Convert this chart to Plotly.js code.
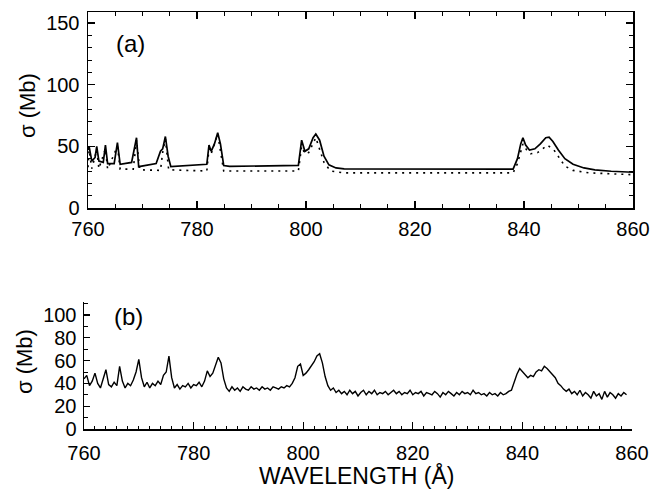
<!DOCTYPE html>
<html>
<head>
<meta charset="utf-8">
<script src="https://cdn.plot.ly/plotly-3.0.1.min.js"></script>
<style>html,body{margin:0;padding:0;background:#fff;}#chart{width:651px;height:490px;}</style>
</head>
<body>
<div id="chart"></div>
<script>
// Panel (a): calculated cross section, solid curve
const aSolidWl = [760.0,760.2,760.7,761.3,761.6,762.0,762.8,763.2,763.6,764.8,765.4,765.9,768.0,768.5,768.9,769.3,772.5,773.3,773.7,774.2,774.7,775.2,781.8,782.2,782.6,783.2,783.8,784.3,784.9,786.0,798.6,799.2,799.8,800.5,801.3,801.8,802.5,803.3,804.2,805.5,807.0,838.0,838.8,839.4,839.8,840.3,841.0,842.0,843.0,844.0,844.6,845.3,846.3,847.5,849.0,851.0,853.0,856.0,860.0];
const aSolidSigma = [47,50,38,41,50,38,37,51,36,36,53,35.5,37,48,57,33.5,36,46,48,58,42,33.5,35.5,51,46,52,61,52,34.5,33.8,34.5,55,46,48,57,60,55,42,35,32.5,31.8,31.5,40,52,57,51,47,48,52,57,57.5,54,47,40,35.5,32.5,31,29.8,29];
// Panel (a): dotted curve
const aDotWl = [760.0,760.2,760.7,761.6,762.0,763.2,763.6,765.4,765.9,768.3,768.9,769.5,773.3,773.7,774.2,774.8,781.8,782.2,782.6,783.8,784.9,798.6,799.2,799.8,800.5,801.8,803.3,804.5,807.0,838.0,838.8,839.8,840.5,841.2,842.5,844.3,845.5,846.5,847.5,849.0,852.0,860.0];
const aDotSigma = [33,47,32,47,32,48,31.5,50,31.5,31.5,55,31,30.5,45,56,31,30,48,44,60,30,30,50,44,45,57,37,30,28.5,28.5,36,52,47,44,45,51,47,40,34,30.5,28.5,27];
// Panel (b): measured cross section
const bWl = [760.0,760.5,761.0,761.5,762.0,762.5,763.0,763.5,764.0,764.5,765.0,765.5,766.0,766.5,767.0,767.5,768.0,768.5,769.0,769.5,770.0,770.5,771.0,771.5,772.0,772.5,773.0,773.5,774.0,774.5,775.0,775.5,776.0,776.5,777.0,777.5,778.0,778.5,779.0,779.5,780.0,780.5,781.0,781.5,782.0,782.5,783.0,783.5,784.0,784.5,785.0,785.5,786.0,786.5,787.0,787.5,788.0,788.5,789.0,789.5,790.0,790.5,791.0,791.5,792.0,792.5,793.0,793.5,794.0,794.5,795.0,795.5,796.0,796.5,797.0,797.5,798.0,798.5,799.0,799.5,800.0,800.5,801.0,801.5,802.0,802.5,803.0,803.5,804.0,804.5,805.0,805.5,806.0,806.5,807.0,807.5,808.0,808.5,809.0,809.5,810.0,810.5,811.0,811.5,812.0,812.5,813.0,813.5,814.0,814.5,815.0,815.5,816.0,816.5,817.0,817.5,818.0,818.5,819.0,819.5,820.0,820.5,821.0,821.5,822.0,822.5,823.0,823.5,824.0,824.5,825.0,825.5,826.0,826.5,827.0,827.5,828.0,828.5,829.0,829.5,830.0,830.5,831.0,831.5,832.0,832.5,833.0,833.5,834.0,834.5,835.0,835.5,836.0,836.5,837.0,837.5,838.0,838.5,839.0,839.5,840.0,840.5,841.0,841.5,842.0,842.5,843.0,843.5,844.0,844.5,845.0,845.5,846.0,846.5,847.0,847.5,848.0,848.5,849.0,849.5,850.0,850.5,851.0,851.5,852.0,852.5,853.0,853.5,854.0,854.5,855.0,855.5,856.0,856.5,857.0,857.5,858.0,858.5,859.0];
const bSigma = [44,47,38,42,49,40,36,45,52,39,37,41,38,55,42,36,40,38,43,50,61,45,37,41,36,40,38,42,39,47,50,64,45,36,39,35,38,37,40,36,39,38,41,37,42,51,46,49,56,63,58,44,36,33,37,34,36,33,37,35,34,37,35,36,34,37,35,36,34,37,36,35,37,36,38,37,40,45,55,57,47,49,52,55,59,64,66,58,46,38,34,36,32,34,31,33,30,34,31,33,29,32,34,30,33,31,34,30,32,31,33,30,32,34,31,33,30,32,31,34,30,32,31,33,29,32,31,30,33,31,28,32,30,33,31,29,32,30,33,31,32,30,34,31,32,30,31,29,32,30,31,29,32,30,31,33,34,42,48,53,50,48,45,47,46,50,52,51,55,53,50,47,45,40,38,35,33,35,31,33,30,34,29,32,30,27,33,29,31,26,33,28,32,30,27,31,29,32,30];
const yTitle = "σ (Mb)";
const xTitle = "WAVELENGTH (Å)";

const F = "Liberation Sans, Arial, Helvetica, sans-serif";
const traces = [
  {x:aSolidWl, y:aSolidSigma, xaxis:'x', yaxis:'y', mode:'lines', line:{color:'#000', width:1.7}, hoverinfo:'skip'},
  {x:aDotWl, y:aDotSigma, xaxis:'x', yaxis:'y', mode:'lines', line:{color:'#000', width:1.6, dash:'2px,5px'}, hoverinfo:'skip'},
  {x:bWl, y:bSigma, xaxis:'x2', yaxis:'y2', mode:'lines', line:{color:'#000', width:1.4}, hoverinfo:'skip'}
];
const L=84, R=18, T=12, B=61, W=651, H=490;
const pw = W-L-R, ph = H-T-B;
const layout = {
  width:W, height:H, showlegend:false,
  margin:{l:L, r:R, t:T, b:B, pad:0},
  paper_bgcolor:'#fff', plot_bgcolor:'#fff',
  font:{family:F, color:'#000', size:20},
  xaxis:{domain:[(88-L)/pw, 1], range:[760,860], tickvals:[760,780,800,820,840,860], ticks:'inside', ticklen:7, tickwidth:1.2, tickcolor:'#000',
         minor:{dtick:5, ticks:'inside', ticklen:4, tickcolor:'#000', tickwidth:1}, showline:true, linecolor:'#000', linewidth:1.5, mirror:'allticks', showgrid:false, zeroline:false, anchor:'y', tickfont:{size:20}, ticklabelstandoff:2},
  yaxis:{domain:[(H-B-208)/ph, 1], range:[0,159], tickvals:[0,50,100,150], ticks:'inside', ticklen:7, tickwidth:1.2, tickcolor:'#000',
         minor:{dtick:10, ticks:'inside', ticklen:4, tickcolor:'#000', tickwidth:1}, showline:true, linecolor:'#000', linewidth:1.5, mirror:'allticks', showgrid:false, zeroline:false, anchor:'x', tickfont:{size:20}, ticklabelstandoff:3},
  xaxis2:{domain:[0, (632-L)/pw], range:[760,860], tickvals:[760,780,800,820,840,860], ticks:'inside', ticklen:7, tickwidth:1.2, tickcolor:'#000',
         minor:{tickvals:[762,764,766,768,770,772,774,776,778,782,784,786,788,790,792,794,796,798,802,804,806,808,810,812,814,816,818,822,824,826,828,830,832,834,836,838,842,844,846,848,850,852,854,856,858], ticks:'inside', ticklen:3, tickcolor:'#000', tickwidth:1}, showline:true, linecolor:'#000', linewidth:1.5, showgrid:false, zeroline:false, anchor:'y2', tickfont:{size:20}, ticklabelstandoff:5},
  yaxis2:{domain:[0, (H-B-302)/ph], range:[0,111.4], tickvals:[0,20,40,60,80,100], ticks:'inside', ticklen:6, tickwidth:1.2, tickcolor:'#000',
         minor:{dtick:10, ticks:'inside', ticklen:4, tickcolor:'#000', tickwidth:1}, showline:true, linecolor:'#000', linewidth:1.5, showgrid:false, zeroline:false, anchor:'x2', tickfont:{size:20}, ticklabelstandoff:2},
  annotations:[
    {text:'(a)', xref:'paper', yref:'paper', x:(130-L)/pw, y:(H-B-44)/ph, xanchor:'center', yanchor:'middle', showarrow:false, font:{size:24}},
    {text:'(b)', xref:'paper', yref:'paper', x:(128-L)/pw, y:(H-B-316)/ph, xanchor:'center', yanchor:'middle', showarrow:false, font:{size:24}},
    {text:yTitle, xref:'paper', yref:'paper', x:(28-L)/pw, y:(H-B-105)/ph, xanchor:'center', yanchor:'middle', textangle:-90, showarrow:false, font:{size:22}},
    {text:yTitle, xref:'paper', yref:'paper', x:(24-L)/pw, y:(H-B-362)/ph, xanchor:'center', yanchor:'middle', textangle:-90, showarrow:false, font:{size:22}},
    {text:xTitle, xref:'paper', yref:'paper', x:(357-L)/pw, y:(H-B-475)/ph, xanchor:'center', yanchor:'middle', showarrow:false, font:{size:23}}
  ]
};
Plotly.newPlot('chart', traces, layout, {staticPlot:true, displayModeBar:false});
</script>
</body>
</html>
